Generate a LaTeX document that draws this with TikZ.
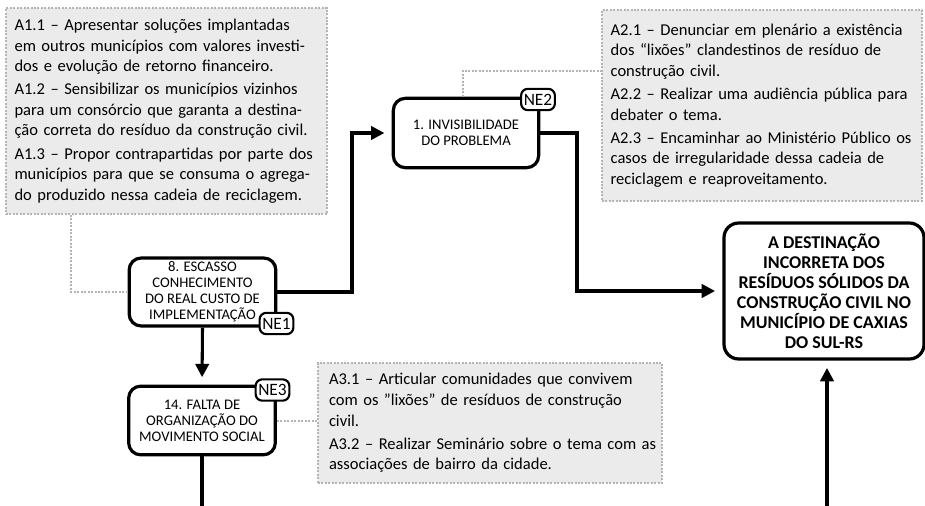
\documentclass[tikz,border=0pt]{standalone}
\usepackage{fontspec}
\setmainfont{Carlito}
\newfontfamily\boxfont{Carlito}
\usetikzlibrary{arrows.meta,calc}
\definecolor{boxgray}{HTML}{EBEBEB}
\definecolor{dotgray}{HTML}{B4B4B4}
\newcommand\JL[1]{\hbox to\linewidth{#1}}
\newcommand\LL[1]{\hbox{#1}}
\newcommand\PG{\vskip 2pt}
\tikzset{
  actbox/.style={draw=dotgray, fill=boxgray, line width=1.5pt, dash pattern=on 1.5pt off 1.1pt,
    inner xsep=6.4pt, inner ysep=0pt, anchor=north west,
    font=\fontsize{12.4}{15.4}\selectfont},
  prob/.style={draw, line width=2.4pt, rounded corners=9pt, fill=white, align=center,
    inner sep=1pt, font=\boxfont\fontsize{11}{12}\selectfont},
  mainbox/.style={draw, line width=2.4pt, rounded corners=11pt, fill=white, align=center,
    inner sep=1pt, font=\bfseries\fontsize{13.5}{15}\selectfont},
  badge/.style={draw, line width=1.6pt, rounded corners=5pt, fill=white, inner xsep=2pt,
    inner ysep=0pt, minimum height=16pt, font=\boxfont\fontsize{13}{14}\selectfont},
  conn/.style={line width=2.3pt},
  arr/.style={conn, -{Triangle[length=10pt,width=10pt]}, shorten >=5.5pt},
  dots/.style={draw=dotgray, line width=1.5pt, dash pattern=on 1.5pt off 1.1pt},
}
\begin{document}
\begin{tikzpicture}[x=0.75pt,y=-0.75pt]
\useasboundingbox (0,0) rectangle (925,506);

% action boxes
\node[actbox, text width=228pt, minimum height=154.5pt, minimum width=240pt] (a1) at (5,7) {%
\JL{A1.1 – Apresentar soluções implantadas}
\JL{em outros municípios com valores investi-}
\LL{dos e evolução de retorno financeiro.}\PG
\JL{A1.2 – Sensibilizar os municípios vizinhos}
\JL{para um consórcio que garanta a destina-}
\LL{ção correta do resíduo da construção civil.}\PG
\JL{A1.3 – Propor contrapartidas por parte dos}
\JL{municípios para que se consuma o agrega-}
\LL{do produzido nessa cadeia de reciclagem.}};

\node[actbox, text width=227pt, minimum height=143.5pt, minimum width=240pt] (a2) at (601,9) {%
\JL{A2.1 – Denunciar em plenário a existência}
\JL{dos “lixões” clandestinos de resíduo de}
\LL{construção civil.}\PG
\JL{A2.2 – Realizar uma audiência pública para}
\LL{debater o tema.}\PG
\JL{A2.3 – Encaminhar ao Ministério Público os}
\JL{casos de irregularidade dessa cadeia de}
\LL{reciclagem e reaproveitamento.}};

\node[actbox, text width=241.5pt, minimum height=90pt, minimum width=258pt] (a3) at (317,362) {%
\JL{A3.1 – Articular comunidades que convivem}
\JL{com os ”lixões” de resíduos de construção}
\LL{civil.}\PG
\JL{A3.2 – Realizar Seminário sobre o tema com as}
\LL{associações de bairro da cidade.}};

% problem boxes
\node[prob, minimum width=110pt, minimum height=51pt] (p8) at (202.5,292)
  {8. ESCASSO\\CONHECIMENTO\\DO REAL CUSTO DE\\IMPLEMENTAÇÃO};
\node[prob, minimum width=109pt, minimum height=52pt] (p1) at (466,133)
  {1. INVISIBILIDADE\\DO PROBLEMA};
\node[prob, minimum width=110pt, minimum height=51.5pt] (p14) at (202,420.5)
  {14. FALTA DE\\ORGANIZAÇÃO DO\\MOVIMENTO SOCIAL};
\node[mainbox, minimum width=150pt, minimum height=102pt] (main) at (824,291)
  {A DESTINAÇÃO\\INCORRETA DOS\\RESÍDUOS SÓLIDOS DA\\CONSTRUÇÃO CIVIL NO\\MUNICÍPIO DE CAXIAS\\DO SUL-RS};

% badges
\node[badge] (ne2) at (538,99.5) {NE2};
\node[badge] (ne1) at (276.5,323.5) {NE1};
\node[badge] (ne3) at (272.5,390) {NE3};

% connectors
\coordinate (j1) at (352,292);
\coordinate (j2) at (577,291);
\coordinate (e1) at (202,512);
\coordinate (e2) at (827,512);
\draw[arr] (p8.east) -- (j1) |- (p1.west);
\draw[arr] (p1.east) -| (j2) -- (main.west);
\draw[arr] (p8.south) -- (p14.north);
\draw[conn] (p14.south) -- (e1);
\draw[arr] (e2) -- (e2 |- main.south);

% dotted links
\coordinate (d1) at (71,289);
\coordinate (d2) at (463,71);
\draw[dots] (a1.south -| d1) |- (p8.west);
\draw[dots] (p1.north -| d2) -- (d2) -- (a2.west |- d2);
\draw[dots] (p14.east) -- (a3.west |- p14.east);
\end{tikzpicture}
\end{document}
